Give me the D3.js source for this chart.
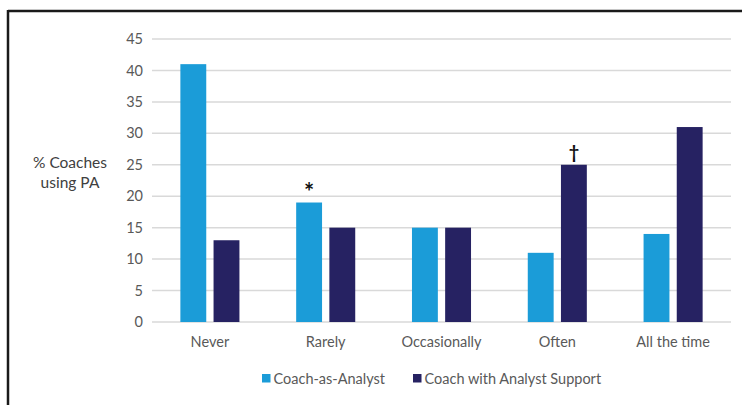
<!DOCTYPE html>
<html>
<head>
<meta charset="utf-8">
<script src="https://cdn.jsdelivr.net/npm/d3@7"></script>
<style>
body { margin: 0; background: #fff; }
svg { display: block; font-family: Lato, "Open Sans", sans-serif; }
</style>
</head>
<body>
<svg width="742" height="405"></svg>
<script>
var categories = ["Never", "Rarely", "Occasionally", "Often", "All the time"];
var seriesNames = ["Coach-as-Analyst", "Coach with Analyst Support"];
var coachAsAnalyst = [41, 19, 15, 11, 14];
var coachWithSupport = [13, 15, 15, 25, 31];
var yTicks = [0, 5, 10, 15, 20, 25, 30, 35, 40, 45];
// significance marks: [category, series index, symbol]
var marks = [["Rarely", 0, "*"], ["Often", 1, "\u2020"]];

var colors = ["#1b9cd8", "#262262"];

var svg = d3.select("svg"),
	margin = {top: 39, right: 11, bottom: 83, left: 152},
	width = +svg.attr("width") - margin.left - margin.right,
	height = +svg.attr("height") - margin.top - margin.bottom;

var series = [coachAsAnalyst, coachWithSupport];
var data = categories.map(function(c, i) {
	return {cat: c, values: series.map(function(s) { return s[i]; })};
});

// frame (top and left edges visible)
svg.append("line")
	.attr("x1", 8).attr("y1", 11).attr("x2", 742).attr("y2", 11)
	.attr("stroke", "#1a1a1a").attr("stroke-width", 2.5);
svg.append("line")
	.attr("x1", 8).attr("y1", 10).attr("x2", 8).attr("y2", 405)
	.attr("stroke", "#1a1a1a").attr("stroke-width", 2.5);

var x0 = d3.scaleBand()
	.domain(categories)
	.range([0, width])
	.paddingInner(0.49)
	.paddingOuter(0.245);

var x1 = d3.scaleBand()
	.domain(d3.range(series.length))
	.range([0, x0.bandwidth()])
	.paddingInner(0.22);

var y = d3.scaleLinear()
	.domain([0, 45])
	.range([height, 0]);

var focus = svg.append("g")
	.attr("transform", "translate(" + margin.left + "," + margin.top + ")");

// gridlines
focus.append("g")
	.selectAll("line")
	.data(yTicks)
	.enter()
	.append("line")
	.attr("x1", 0)
	.attr("x2", width)
	.attr("y1", function(d) { return y(d); })
	.attr("y2", function(d) { return y(d); })
	.attr("stroke", "#d9d9d9")
	.attr("stroke-width", 1.5);

// y axis labels
var yAxis = d3.axisLeft(y).tickValues(yTicks).tickSize(0).tickPadding(9);
focus.append("g")
	.call(yAxis)
	.call(function(g) { g.select(".domain").remove(); })
	.selectAll("text")
	.attr("font-size", 14.5)
	.attr("font-family", "Lato, 'Open Sans', sans-serif")
	.attr("fill", "#595959");

// bars
var groups = focus.selectAll(".group")
	.data(data)
	.enter()
	.append("g")
	.attr("class", "group")
	.attr("transform", function(d) { return "translate(" + x0(d.cat) + ",0)"; });

groups.selectAll("rect")
	.data(function(d) { return d.values.map(function(v, i) { return {i: i, v: v}; }); })
	.enter()
	.append("rect")
	.attr("x", function(d) { return x1(d.i); })
	.attr("width", x1.bandwidth())
	.attr("y", function(d) { return y(d.v); })
	.attr("height", function(d) { return height - y(d.v); })
	.attr("fill", function(d) { return colors[d.i]; });

// x axis labels
var xAxis = d3.axisBottom(x0).tickSize(0).tickPadding(15);
focus.append("g")
	.attr("transform", "translate(0," + height + ")")
	.call(xAxis)
	.call(function(g) { g.select(".domain").remove(); })
	.selectAll("text")
	.attr("font-size", 14.5)
	.attr("font-family", "Lato, 'Open Sans', sans-serif")
	.attr("fill", "#595959");

// significance symbols
marks.forEach(function(m) {
	var ci = categories.indexOf(m[0]);
	var v = series[m[1]][ci];
	focus.append("text")
		.attr("x", x0(m[0]) + x1(m[1]) + x1.bandwidth() / 2)
		.attr("y", y(v) - (m[2] === "*" ? 2 : 6))
		.attr("text-anchor", "middle")
		.attr("font-size", m[2] === "*" ? 24 : 18)
		.attr("font-weight", "bold")
		.attr("fill", "#111")
		.text(m[2]);
});

// y title
var yTitle = svg.append("text")
	.attr("text-anchor", "middle")
	.attr("font-size", 15.5)
	.attr("fill", "#404040");
yTitle.append("tspan").attr("x", 70).attr("y", 168).text("% Coaches");
yTitle.append("tspan").attr("x", 70).attr("y", 188).text("using PA");

// legend
var legendX = [262, 413];
var legend = svg.selectAll(".legend")
	.data(seriesNames)
	.enter()
	.append("g")
	.attr("class", "legend")
	.attr("transform", function(d, i) { return "translate(" + legendX[i] + ",374)"; });

legend.append("rect")
	.attr("width", 8.5)
	.attr("height", 8.5)
	.attr("fill", function(d, i) { return colors[i]; });

legend.append("text")
	.attr("x", 11.5)
	.attr("y", 9.5)
	.attr("font-size", 14.5)
	.attr("fill", "#595959")
	.text(function(d) { return d; });
</script>
</body>
</html>
